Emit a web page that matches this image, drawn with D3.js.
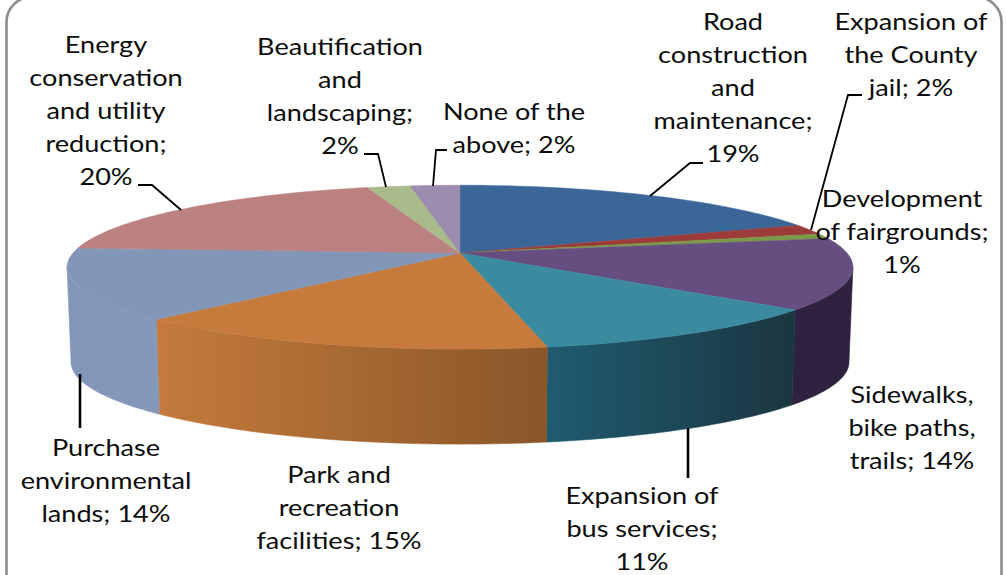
<!DOCTYPE html>
<html><head><meta charset="utf-8">
<script src="https://cdn.jsdelivr.net/npm/d3@7"></script>
<style>html,body{margin:0;background:#fff}svg{display:block}text{font-family:Lato,"Open Sans",sans-serif;font-size:24px;fill:#0c0c0c;text-anchor:middle}</style>
</head><body><svg id="c" width="1006" height="575"></svg>
<script>
// data
const categories = ["Road construction and maintenance","Expansion of the County jail","Development of fairgrounds","Sidewalks, bike paths, trails","Expansion of bus services","Park and recreation facilities","Purchase environmental lands","Energy conservation and utility reduction","Beautification and landscaping","None of the above"];
const values = [19,2,1,14,11,15,14,19.5,2.1,2.4];
const topColors = ["#3b6798","#9c3c3a","#7a9a47","#664f80","#3a8aa0","#c67a3c","#8297b8","#bb8181","#a8b98a","#9c8cad"];
const wallFrom = ["#2a4a6e","#702a28","#586f32","#2f2240","#1f5b70","#c47b3c","#8297b8","#866060","#788560","#70657c"];
const wallTo   = ["#2a4a6e","#702a28","#586f32","#2f2240","#1b3640","#8a5628","#8498b9","#866060","#788560","#70657c"];
const labelLines = [
 ["Road","construction","and","maintenance;","19%"],
 ["Expansion of","the County","jail; 2%"],
 ["Development","of fairgrounds;","1%"],
 ["Sidewalks,","bike paths,","trails; 14%"],
 ["Expansion of","bus services;","11%"],
 ["Park and","recreation","facilities; 15%"],
 ["Purchase","environmental","lands; 14%"],
 ["Energy","conservation","and utility","reduction;","20%"],
 ["Beautification","and","landscaping;","2%"],
 ["None of the","above; 2%"]];

// layout
const labelAnchor = [[733,30],[911,30],[902,207],[912,403],[642,504],[339,483],[106,456],[106,53],[340,55],[514,120]];
const lineGap = 33;
const labelStretch = 1.13;
const leaders = [
 [[703,163],[690,163],[650,196]],
 [[862,95],[848,95],[811,230]],
 [],[],
 [[688,428],[688,478]],
 [],
 [[80,374],[80,428]],
 [[138,185],[152,185],[181,210]],
 [[364,154],[378,154],[386,187]],
 [[447,150],[436,150],[433,186]]];
const cx=460, cy=253, rx=387, ry=79.5, k=0.1729, depth=95, shrink=0.99;

const svg=d3.select("#c"), defs=svg.append("defs");
svg.append("rect").attr("x",6.5).attr("y",-3).attr("width",995).attr("height",620).attr("rx",25)
  .attr("fill","#fff").attr("stroke","#8c8c8c").attr("stroke-width",2.6);

const xs=d3.scaleLinear().domain([-1,1]).range([cx-rx,cx+rx]);
const ys=d3.scaleLinear().domain([-1,1]).range([cy-ry,cy+ry]);
const project=a=>{const u=Math.sin(a),v=-Math.cos(a),w=1-k*v;return [xs(u/w),ys(v/w)];};
const lower=p=>[cx+(p[0]-cx)*shrink,p[1]+depth];
const samples=(a0,a1)=>d3.range(0,41).map(i=>a0+(a1-a0)*i/40);
const line=d3.line();

const arcs=d3.pie().sort(null).value(d=>d)(values).map((d,i)=>({...d,i}));
const tangent=Math.acos(-k);               // rim angle where the side wall becomes visible
const frontA=tangent, frontB=2*Math.PI-tangent;

const walls=arcs.filter(d=>d.endAngle>frontA&&d.startAngle<frontB)
  .map(d=>({...d,a0:Math.max(d.startAngle,frontA),a1:Math.min(d.endAngle,frontB)}));
walls.sort((p,q)=>Math.cos((q.a0+q.a1)/2)-Math.cos((p.a0+p.a1)/2));

walls.forEach(d=>{
  const pts=samples(d.a0,d.a1).map(project);
  const id="w"+d.i;
  const xsExt=d3.extent(pts,p=>p[0]);
  const g=defs.append("linearGradient").attr("id",id).attr("gradientUnits","userSpaceOnUse")
    .attr("x1",xsExt[0]).attr("x2",xsExt[1]).attr("y1",0).attr("y2",0);
  g.append("stop").attr("offset",0).attr("stop-color",wallFrom[d.i]);
  g.append("stop").attr("offset",1).attr("stop-color",wallTo[d.i]);
  svg.append("path").attr("d",line(pts.concat(pts.map(lower).reverse()))+"Z")
     .attr("fill",`url(#${id})`).attr("stroke",`url(#${id})`).attr("stroke-width",.6);
});

arcs.forEach(d=>{
  const pts=[[cx,cy]].concat(samples(d.startAngle,d.endAngle).map(project));
  svg.append("path").attr("d",line(pts)+"Z").attr("fill",topColors[d.i]).attr("stroke",topColors[d.i]).attr("stroke-width",.5);
});

leaders.forEach(l=>{ if(l.length) svg.append("path").attr("d",line(l)).attr("fill","none")
  .attr("stroke","#000").attr("stroke-width",l.length===2?2.6:1.8); });

labelLines.forEach((ls,i)=>{
  const t=svg.append("text").attr("transform",`translate(${labelAnchor[i][0]},${labelAnchor[i][1]}) scale(${labelStretch},1)`);
  ls.forEach((s,j)=>t.append("tspan").attr("x",0).attr("y",j*lineGap).text(s));
});
</script></body></html>
